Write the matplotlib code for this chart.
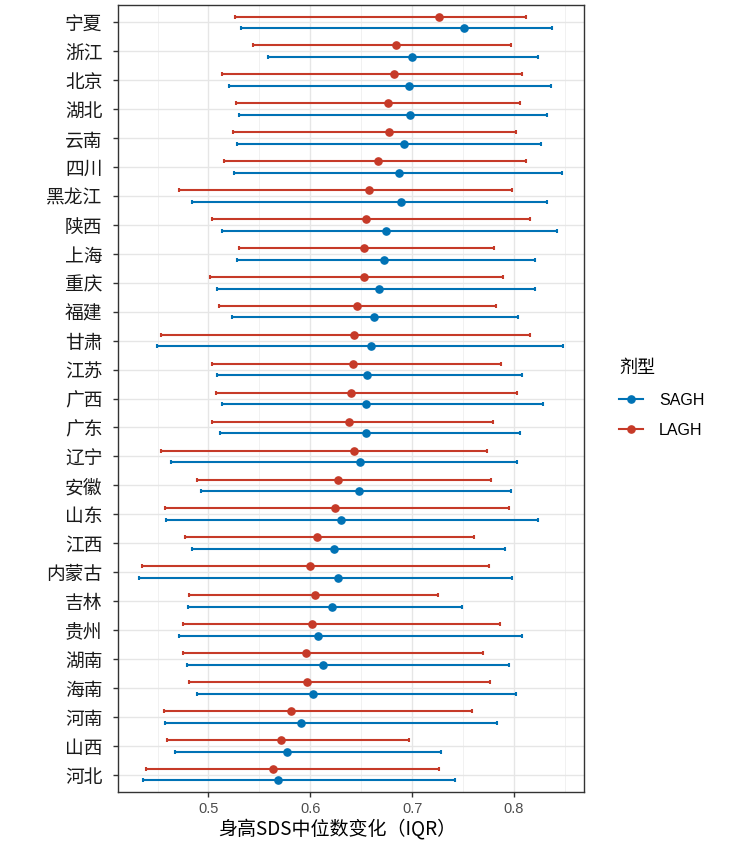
import numpy as np
import matplotlib
matplotlib.use("Agg")
import matplotlib.pyplot as plt
from matplotlib.lines import Line2D

plt.rcParams['font.family'] = ['Noto Sans CJK SC', 'DejaVu Sans']
latin = ['Liberation Sans', 'DejaVu Sans']

# provinces, top to bottom
provinces = ["宁夏", "浙江", "北京", "湖北", "云南", "四川", "黑龙江", "陕西", "上海",
             "重庆", "福建", "甘肃", "江苏", "广西", "广东", "辽宁", "安徽", "山东",
             "江西", "内蒙古", "吉林", "贵州", "湖南", "海南", "河南", "山西", "河北"]

# SAGH: median, lower, upper
sagh_med = [0.751, 0.700, 0.697, 0.698, 0.692, 0.687, 0.689, 0.674, 0.672,
            0.667, 0.663, 0.660, 0.656, 0.655, 0.655, 0.649, 0.648, 0.630,
            0.623, 0.627, 0.621, 0.608, 0.612, 0.603, 0.591, 0.577, 0.568]
sagh_lo = [0.532, 0.558, 0.520, 0.530, 0.528, 0.525, 0.484, 0.513, 0.528,
           0.508, 0.523, 0.449, 0.508, 0.513, 0.511, 0.463, 0.493, 0.458,
           0.484, 0.432, 0.480, 0.471, 0.479, 0.489, 0.457, 0.467, 0.436]
sagh_hi = [0.837, 0.824, 0.836, 0.832, 0.827, 0.847, 0.832, 0.842, 0.821,
           0.821, 0.804, 0.848, 0.808, 0.829, 0.806, 0.803, 0.797, 0.824,
           0.791, 0.798, 0.749, 0.808, 0.795, 0.802, 0.783, 0.728, 0.742]

# LAGH: median, lower, upper
lagh_med = [0.726, 0.684, 0.682, 0.676, 0.677, 0.666, 0.658, 0.655, 0.653,
            0.653, 0.646, 0.643, 0.642, 0.640, 0.638, 0.643, 0.627, 0.624,
            0.607, 0.600, 0.605, 0.602, 0.596, 0.597, 0.581, 0.571, 0.563]
lagh_lo = [0.526, 0.544, 0.513, 0.527, 0.524, 0.515, 0.471, 0.503, 0.530,
           0.502, 0.510, 0.453, 0.503, 0.507, 0.503, 0.453, 0.489, 0.457,
           0.477, 0.435, 0.481, 0.475, 0.475, 0.481, 0.456, 0.459, 0.439]
lagh_hi = [0.812, 0.797, 0.808, 0.806, 0.802, 0.812, 0.798, 0.816, 0.780,
           0.789, 0.782, 0.816, 0.787, 0.803, 0.779, 0.774, 0.777, 0.795,
           0.761, 0.775, 0.725, 0.786, 0.770, 0.776, 0.759, 0.697, 0.726]

blue = "#0072B5"
red = "#C63A28"

fig = plt.figure(figsize=(7.39, 8.57), dpi=100)
ax = fig.add_axes([0.1597, 0.0758, 0.6306, 0.9184])

n = len(provinces)
ypos = np.arange(n)[::-1]

def draw(med, lo, hi, offset, color):
    med = np.array(med)
    err = [med - np.array(lo), np.array(hi) - med]
    ax.errorbar(med, ypos + offset, xerr=err, fmt='o', color=color,
                ecolor=color, elinewidth=1.5, capsize=1.6, capthick=1.5,
                markersize=5.2, zorder=3)

draw(lagh_med, lagh_lo, lagh_hi, 0.2, red)
draw(sagh_med, sagh_lo, sagh_hi, -0.2, blue)

# ggplot-style limits: 5% continuous expansion, 0.6 discrete
lo_all = min(min(sagh_lo), min(lagh_lo))
hi_all = max(max(sagh_hi), max(lagh_hi))
span = hi_all - lo_all
ax.set_xlim(lo_all - 0.05 * span, hi_all + 0.05 * span)
ax.set_ylim(-0.6, n - 1 + 0.6)

ax.set_yticks(ypos)
ax.set_yticklabels(provinces, fontsize=13.5, color="#1a1a1a")
ax.set_xticks([0.5, 0.6, 0.7, 0.8])
ax.set_xticklabels(["0.5", "0.6", "0.7", "0.8"], fontsize=10.5, color="#4d4d4d",
                   family=latin)
ax.set_xticks([0.45, 0.55, 0.65, 0.75, 0.85], minor=True)
ax.tick_params(axis='both', which='major', length=3.6, color="#333333", width=1)
ax.tick_params(axis='y', which='major', pad=7.5)
ax.tick_params(axis='x', which='minor', length=0)
ax.grid(True, which='major', color="#e6e6e6", linewidth=1.0, zorder=0)
ax.grid(True, which='minor', axis='x', color="#ebebeb", linewidth=0.5, zorder=0)
ax.set_axisbelow(True)
for s in ax.spines.values():
    s.set_color("#333333")
    s.set_linewidth(1.0)

ax.set_xlabel("身高SDS中位数变化（IQR）", fontsize=13.7)
ax.xaxis.set_label_coords(0.47, -0.034)

handles = [Line2D([0], [0], color=blue, marker='o', markersize=5.2, linewidth=1.5),
           Line2D([0], [0], color=red, marker='o', markersize=5.2, linewidth=1.5)]
leg = fig.legend(handles, ["SAGH", "LAGH"], title="剂型", loc='center left',
                 bbox_to_anchor=(0.818, 0.535), frameon=False,
                 prop={'family': latin, 'size': 11.5},
                 title_fontsize=13, handlelength=1.5, labelspacing=0.95,
                 handletextpad=1.0)
leg._legend_box.align = "left"

fig.savefig("out.png", dpi=100)
